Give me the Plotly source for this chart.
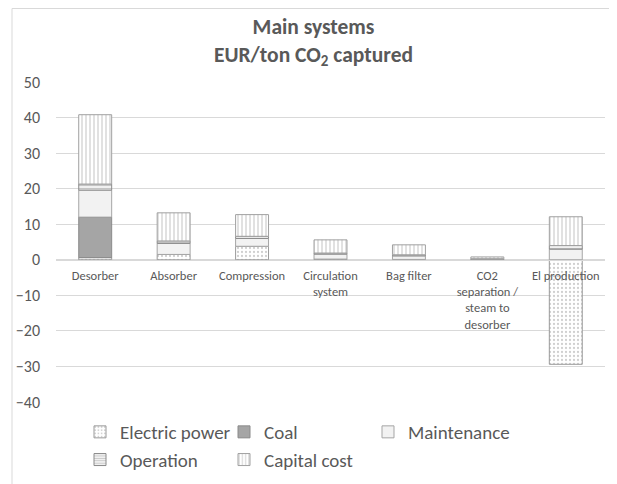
import plotly.graph_objects as go

categories = ["Desorber", "Absorber", "Compression", "Circulation<br>system",
              "Bag filter", "CO2<br>separation /<br>steam to<br>desorber", "El production"]
electric_power = [0.6, 1.5, 3.8, 0.2, 0.1, None, -29.4]
coal = [11.4, None, None, None, None, None, None]
maintenance = [7.6, 3.1, 2.2, 1.4, 1.0, None, 3.0]
operation = [1.7, 0.7, 0.6, 0.3, 0.3, 0.3, 1.0]
capital_cost = [19.5, 7.9, 6.1, 3.7, 2.8, 0.5, 8.1]

FONT = "Calibri, Carlito, Lato, sans-serif"
TXT = "#595959"

fig = go.Figure()

def add(name, vals, color, line, shape="", fg=None, size=4, sol=0.3):
    pat = dict(shape=shape)
    if shape:
        pat.update(fgcolor=fg, bgcolor=color, fillmode="overlay", size=size, solidity=sol)
    fig.add_trace(go.Bar(
        name=name, x=categories, y=vals, width=0.42,
        marker=dict(color=color, line=dict(color=line, width=1), pattern=pat),
    ))

add("Electric power", electric_power, "#FFFFFF", "#9A9A9A", ".", "#A0A0A0", 4, 0.25)
add("Coal", coal, "#A5A5A5", "#8A8A8A")
add("Maintenance", maintenance, "#F2F2F2", "#A5A5A5")
add("Operation", operation, "#FFFFFF", "#8A8A8A", "-", "#8A8A8A", 3, 0.5)
add("Capital cost", capital_cost, "#FFFFFF", "#A0A0A0", "|", "#9A9A9A", 4, 0.3)

W, H = 617, 484
OFF = 8  # page body offset
L, T = 56 - OFF, 82 - OFF
PR, PB = 605 - OFF, 402 - OFF
R, B = W - PR, H - PB
pw, ph = PR - L, PB - T

fig.update_layout(
    width=W, height=H,
    margin=dict(l=L, r=R, t=T, b=B, autoexpand=False),
    barmode="relative",
    plot_bgcolor="white", paper_bgcolor="white",
    font=dict(family=FONT, color=TXT),
    title=dict(text="<b>Main systems<br>EUR/ton CO<sub>2</sub> captured</b>",
               x=(313.5 - OFF) / W, xanchor="center", y=1 - 26 / H, yanchor="top",
               font=dict(size=21.5, color=TXT, family=FONT)),
    xaxis=dict(anchor="free", position=40 / 90, showline=True, linecolor="#D9D9D9",
               linewidth=1, showgrid=False, ticks="", tickfont=dict(size=12.5, color=TXT),
               tickangle=0, ticklabelstandoff=4),
    yaxis=dict(range=[-40, 50], dtick=10, showgrid=True, gridcolor="#D9D9D9",
               gridwidth=1, zeroline=False, ticks="", ticklabelstandoff=15,
               tickfont=dict(size=16, color=TXT)),
    legend=dict(orientation="h", x=(72 - L) / pw, xanchor="left",
                y=-(405 - PB) / ph, yanchor="top",
                entrywidth=99, entrywidthmode="pixels", itemwidth=30,
                font=dict(size=19, color=TXT), traceorder="normal"),
    showlegend=True,
)

fig.add_shape(type="rect", xref="paper", yref="paper",
              x0=(12 - OFF - L) / pw, x1=(615 - OFF - L) / pw,
              y0=-(495 - PB) / ph, y1=(PB - 0.5) / ph,
              line=dict(color="#D9D9D9", width=1), fillcolor="rgba(0,0,0,0)", layer="below")

fig.write_html("out.html")
